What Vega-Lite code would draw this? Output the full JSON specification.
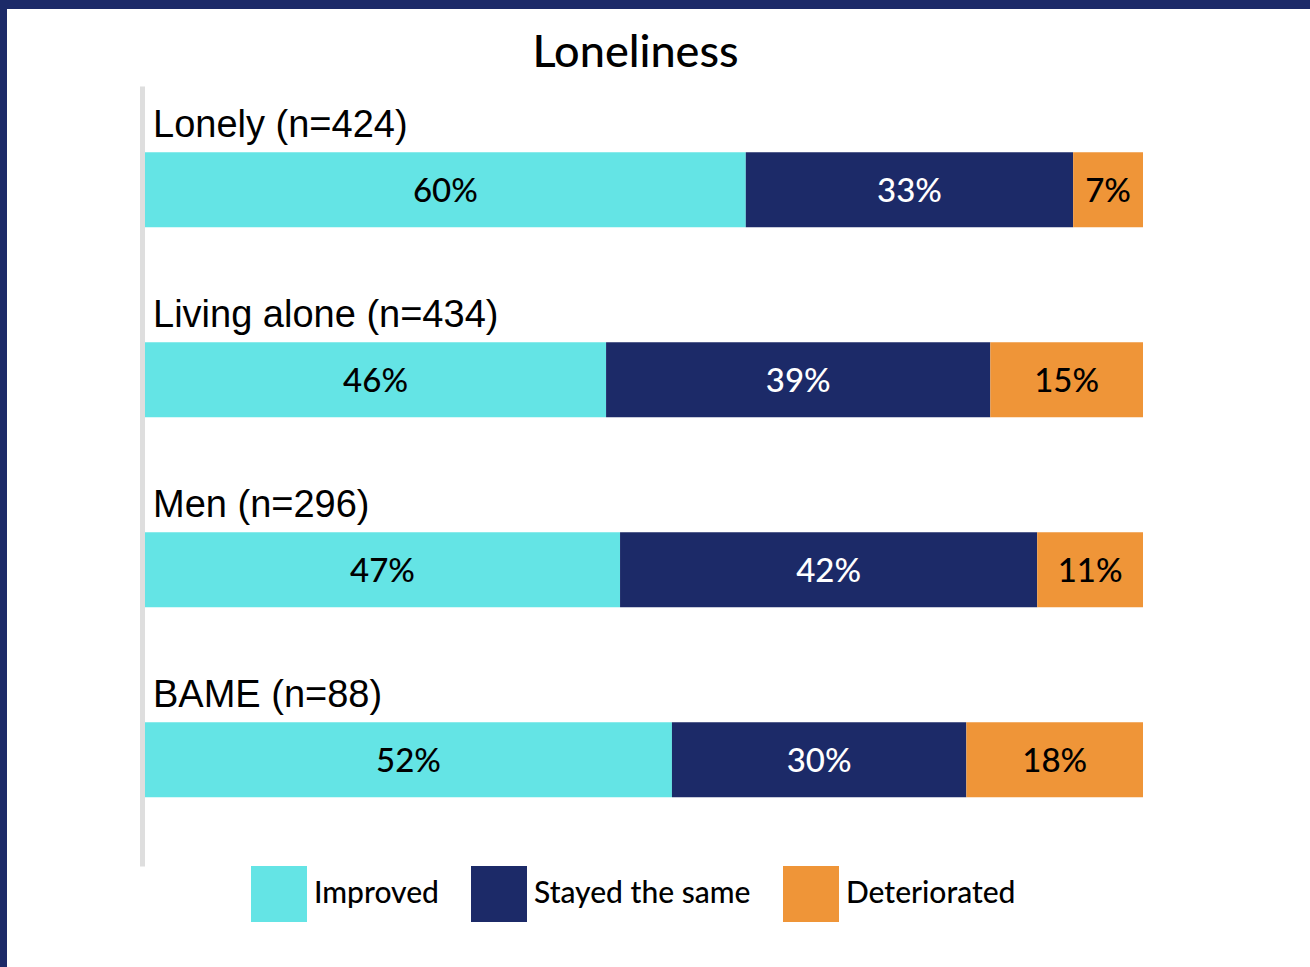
{
  "$schema": "https://vega.github.io/schema/vega-lite/v6.json",
  "width": 1303,
  "height": 958,
  "autosize": {"type": "none"},
  "padding": {"left": 7, "top": 9, "right": 0, "bottom": 0},
  "background": "#1C2A68",
  "title": {
    "text": "Loneliness",
    "font": "Lato",
    "fontSize": 45,
    "fontWeight": 500,
    "color": "black",
    "anchor": "middle",
    "frame": "group",
    "baseline": "alphabetic",
    "dx": -23,
    "offset": -103
  },
  "data": {
    "values": [
      {"group": "Lonely (n=424)", "response": "Improved", "rank": 1, "pct": 60.2, "label": "60%"},
      {"group": "Lonely (n=424)", "response": "Stayed the same", "rank": 2, "pct": 32.8, "label": "33%"},
      {"group": "Lonely (n=424)", "response": "Deteriorated", "rank": 3, "pct": 7.0, "label": "7%"},
      {"group": "Living alone (n=434)", "response": "Improved", "rank": 1, "pct": 46.2, "label": "46%"},
      {"group": "Living alone (n=434)", "response": "Stayed the same", "rank": 2, "pct": 38.5, "label": "39%"},
      {"group": "Living alone (n=434)", "response": "Deteriorated", "rank": 3, "pct": 15.3, "label": "15%"},
      {"group": "Men (n=296)", "response": "Improved", "rank": 1, "pct": 47.6, "label": "47%"},
      {"group": "Men (n=296)", "response": "Stayed the same", "rank": 2, "pct": 41.8, "label": "42%"},
      {"group": "Men (n=296)", "response": "Deteriorated", "rank": 3, "pct": 10.6, "label": "11%"},
      {"group": "BAME (n=88)", "response": "Improved", "rank": 1, "pct": 52.8, "label": "52%"},
      {"group": "BAME (n=88)", "response": "Stayed the same", "rank": 2, "pct": 29.5, "label": "30%"},
      {"group": "BAME (n=88)", "response": "Deteriorated", "rank": 3, "pct": 17.7, "label": "18%"}
    ]
  },
  "encoding": {
    "y": {
      "field": "group",
      "type": "nominal",
      "sort": ["Lonely (n=424)", "Living alone (n=434)", "Men (n=296)", "BAME (n=88)"],
      "scale": {"range": [77, 857], "paddingInner": 0.6053, "paddingOuter": 0.3553, "align": 0.49},
      "axis": {
        "title": null,
        "labels": false,
        "ticks": false,
        "grid": false,
        "domain": true,
        "domainColor": "#DEDEDE",
        "domainWidth": 5,
        "offset": -135
      }
    }
  },
  "layer": [
    {
      "mark": {"type": "bar"},
      "encoding": {
        "x": {
          "field": "pct",
          "type": "quantitative",
          "stack": "zero",
          "scale": {"domain": [0, 100], "range": [138, 1136], "nice": false},
          "axis": null
        },
        "order": {"field": "rank"},
        "color": {
          "field": "response",
          "type": "nominal",
          "scale": {
            "domain": ["Improved", "Stayed the same", "Deteriorated"],
            "range": ["#64E4E5", "#1C2A68", "#EF9538"]
          },
          "legend": {
            "orient": "none",
            "legendX": 244,
            "legendY": 857,
            "direction": "horizontal",
            "title": null,
            "symbolType": "square",
            "symbolSize": 3136,
            "symbolStrokeWidth": 0,
            "symbolOpacity": 1,
            "labelFont": "Lato",
            "labelFontSize": 30,
            "labelFontWeight": 500,
            "labelColor": "black",
            "labelOffset": 7,
            "labelLimit": 400,
            "columnPadding": 32,
            "padding": 0
          }
        }
      }
    },
    {
      "mark": {"type": "text", "font": "Lato", "fontSize": 33, "fontWeight": 500, "baseline": "middle", "align": "center", "dy": 2},
      "encoding": {
        "x": {"field": "pct", "type": "quantitative", "stack": "zero", "bandPosition": 0.5},
        "order": {"field": "rank"},
        "detail": {"field": "response"},
        "text": {"field": "label"},
        "color": {
          "condition": {"test": "datum.response === 'Stayed the same'", "value": "white"},
          "value": "black"
        }
      }
    },
    {
      "transform": [{"filter": "datum.rank === 1"}],
      "mark": {"type": "text", "font": "Liberation Sans", "fontSize": 38, "baseline": "alphabetic", "align": "left", "dx": 8, "dy": -52.5, "color": "black"},
      "encoding": {
        "x": {"datum": 0, "type": "quantitative"},
        "text": {"field": "group"}
      }
    }
  ],
  "config": {
    "view": {"fill": "white", "stroke": null}
  }
}
